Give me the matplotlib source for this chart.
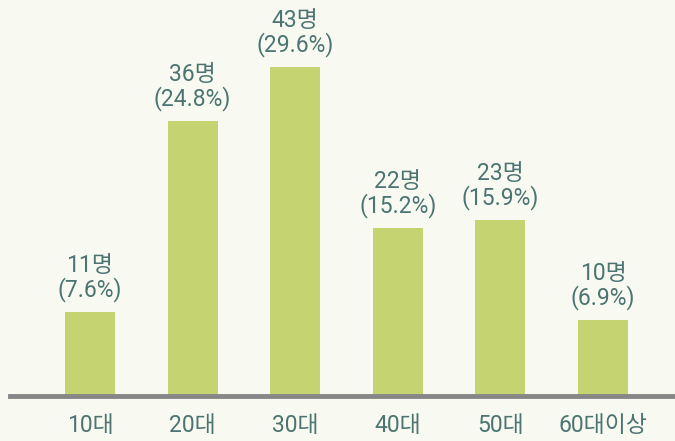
import matplotlib
matplotlib.use("Agg")
import matplotlib.pyplot as plt

categories = ["10대", "20대", "30대", "40대", "50대", "60대이상"]
counts = [11, 36, 43, 22, 23, 10]
percents = ["7.6%", "24.8%", "29.6%", "15.2%", "15.9%", "6.9%"]

plt.rcParams['font.family'] = ['Roboto', 'Noto Sans CJK KR', 'DejaVu Sans']

W, H = 675, 441
fig = plt.figure(figsize=(W/100, H/100), dpi=100)
bg = "#f8f9f0"
fig.patch.set_facecolor(bg)
ax = fig.add_axes([0, 0, 1, 1])
ax.set_facecolor(bg)

spacing = 102.6
left_px = 90
ax.set_xlim(-left_px/spacing, -left_px/spacing + W/spacing)
scale = 7.65
base_px = 45
ax.set_ylim(-base_px/scale, -base_px/scale + H/scale)

x = list(range(len(categories)))
ax.bar(x, counts, width=50/spacing, color="#c5d470", zorder=2)
ax.axhline(0, xmin=10/W, xmax=1, color="#878787", lw=3.5, zorder=3)

txt = "#4b7472"
for i, (c, p) in enumerate(zip(counts, percents)):
    ax.text(i, c + 1.3, f"{c}명\n({p})", ha="center", va="bottom",
            fontsize=16.5, color=txt, linespacing=1.0)
    ax.text(i, -30/scale, categories[i], ha="center", va="center",
            fontsize=16.5, color=txt)

ax.axis("off")
fig.savefig("out.png", dpi=100, facecolor=bg)
